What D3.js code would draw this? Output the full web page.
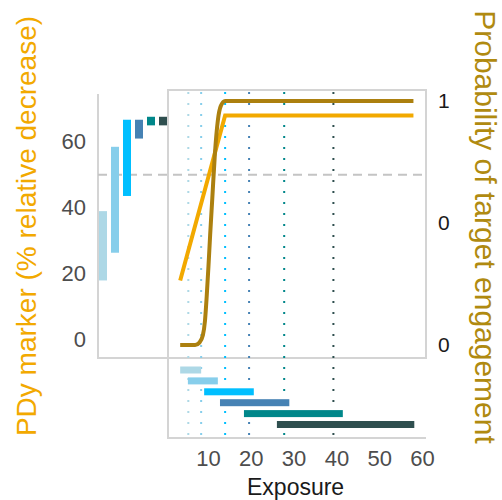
<!DOCTYPE html>
<html>
<head>
<meta charset="utf-8">
<script src="https://cdn.jsdelivr.net/npm/d3@7"></script>
<style>
  html, body { margin: 0; padding: 0; background: #ffffff; }
  svg { display: block; font-family: "Liberation Sans", Arial, Helvetica, sans-serif; }
</style>
</head>
<body>
<svg id="chart" width="502" height="500"></svg>
<script>
// Exposure bins (one per colour group)
const bins = ["B1", "B2", "B3", "B4", "B5", "B6"];
const exposureLow = [3.5, 5.3, 9.1, 12.8, 18.4, 26.1];
const exposureHigh = [8.4, 12.3, 20.7, 29.0, 41.5, 58.2];
const exposureMedian = [5.4, 8.4, 14.0, 19.6, 27.8, 39.3];
// PD marker range reached within each bin (% relative decrease)
const pdLow = [18, 26.4, 43.6, 61, 65, 65];
const pdHigh = [39, 58.5, 66.7, 66.7, 67.6, 67.6];
// PD marker vs exposure
const pdCurveExposure = [3.5, 14, 58];
const pdCurveValue = [18, 68, 68];
// Probability of target engagement vs exposure
const engageExposure = [3.5, 7.0, 8.0, 8.8, 9.3, 9.7, 10.1, 10.5, 11.0, 11.6, 12.3, 13.0, 14.0, 58];
const engageProb = [0, 0, 0.01, 0.04, 0.1, 0.2, 0.32, 0.45, 0.6, 0.78, 0.92, 0.98, 1, 1];
// Reference level
const pdThreshold = 50;
// Ticks
const xTicks = [10, 20, 30, 40, 50, 60];
const pdTicks = [0, 20, 40, 60];
const probTicks = [0, 0.5, 1];
const probTickLabels = ["0", "0", "1"];

const binColors = ["#ADD8E6", "#87CEEB", "#00BFFF", "#4682B4", "#00878A", "#2F4F4F"];
const pdColor = "#F2A900";
const engageColor = "#AC800F";
const frameColor = "#d4d4d4";

const svg = d3.select("#chart");

// Scales
const x = d3.scaleLinear().domain([0, 60]).range([165.2, 422]);
const yPD = d3.scaleLinear().domain([-5.5, 74.5]).range([358, 94]);
const yProb = d3.scaleLinear().domain([0, 1]).range([345, 101]);
const binX = d3.scalePoint().domain(bins).range([103, 163]);
const binY = d3.scalePoint().domain(bins).range([370, 424.5]);
const color = d3.scaleOrdinal().domain(bins).range(binColors);

// Panel frames
const frames = svg.append("g").attr("stroke", frameColor).attr("stroke-width", 2).attr("fill", "none");
frames.append("path").attr("d", "M98,94V358H168");
frames.append("rect").attr("x", 168).attr("y", 90).attr("width", 258).attr("height", 268);
frames.append("path").attr("d", "M168,358V438H426");

// Threshold line across both upper panels
svg.append("line")
  .attr("x1", 98).attr("x2", 426)
  .attr("y1", yPD(pdThreshold)).attr("y2", yPD(pdThreshold))
  .attr("stroke", "#c4c4c4").attr("stroke-width", 2)
  .attr("stroke-dasharray", "9,6");

// Dotted lines at the median exposure of each bin
svg.append("g").selectAll("line")
  .data(bins)
  .join("line")
  .attr("x1", (d, i) => x(exposureMedian[i]))
  .attr("x2", (d, i) => x(exposureMedian[i]))
  .attr("y1", 92).attr("y2", 440)
  .attr("stroke", d => color(d))
  .attr("stroke-width", 2)
  .attr("stroke-dasharray", "2,9");

// PD range bars (left panel)
svg.append("g").selectAll("rect")
  .data(bins)
  .join("rect")
  .attr("x", d => binX(d) - 4)
  .attr("width", 8)
  .attr("y", (d, i) => yPD(pdHigh[i]))
  .attr("height", (d, i) => yPD(pdLow[i]) - yPD(pdHigh[i]))
  .attr("fill", d => color(d));

// Exposure range bars (bottom panel)
svg.append("g").selectAll("rect")
  .data(bins)
  .join("rect")
  .attr("x", (d, i) => x(exposureLow[i]))
  .attr("width", (d, i) => x(exposureHigh[i]) - x(exposureLow[i]))
  .attr("y", d => binY(d) - 3.5)
  .attr("height", 7)
  .attr("fill", d => color(d));

// Curves
const pdLine = d3.line().x(d => x(d[0])).y(d => yPD(d[1]));
svg.append("path")
  .datum(d3.zip(pdCurveExposure, pdCurveValue))
  .attr("d", pdLine)
  .attr("fill", "none").attr("stroke", pdColor).attr("stroke-width", 4);

const engageLine = d3.line().curve(d3.curveMonotoneX).x(d => x(d[0])).y(d => yProb(d[1]));
svg.append("path")
  .datum(d3.zip(engageExposure, engageProb))
  .attr("d", engageLine)
  .attr("fill", "none").attr("stroke", engageColor).attr("stroke-width", 4);

// Axes
const axisLeft = svg.append("g")
  .attr("transform", "translate(92,0)")
  .call(d3.axisLeft(yPD).tickValues(pdTicks).tickSize(0).tickPadding(6));
axisLeft.select(".domain").remove();
axisLeft.selectAll("text")
  .attr("fill", "#4d4d4d").style("font-size", "22px")
  .attr("font-family", "Liberation Sans, Arial, sans-serif");

const axisRight = svg.append("g")
  .attr("transform", "translate(432,0)")
  .call(d3.axisRight(yProb).tickValues(probTicks).tickSize(0).tickPadding(6)
    .tickFormat((d, i) => probTickLabels[i]));
axisRight.select(".domain").remove();
axisRight.selectAll("text")
  .attr("fill", "#1a1a1a").style("font-size", "21px")
  .attr("font-family", "Liberation Sans, Arial, sans-serif");

const axisBottom = svg.append("g")
  .attr("transform", "translate(0,450)")
  .call(d3.axisBottom(x).tickValues(xTicks).tickSize(0).tickPadding(0));
axisBottom.select(".domain").remove();
axisBottom.selectAll("text")
  .attr("fill", "#4d4d4d").style("font-size", "22px")
  .attr("font-family", "Liberation Sans, Arial, sans-serif");

// Axis titles
svg.append("text")
  .attr("x", (x(0) + x(60)) / 2 + 2).attr("y", 495)
  .attr("text-anchor", "middle")
  .attr("fill", "#1a1a1a").style("font-size", "23px")
  .text("Exposure");

svg.append("text")
  .attr("transform", "translate(36,226) rotate(-90)")
  .attr("text-anchor", "middle")
  .attr("fill", pdColor).style("font-size", "28px")
  .text("PDy marker (% relative decrease)");

svg.append("text")
  .attr("transform", "translate(475,227) rotate(90)")
  .attr("text-anchor", "middle")
  .attr("fill", "#B08A10").style("font-size", "30px")
  .text("Probability of target engagement");
</script>
</body>
</html>
